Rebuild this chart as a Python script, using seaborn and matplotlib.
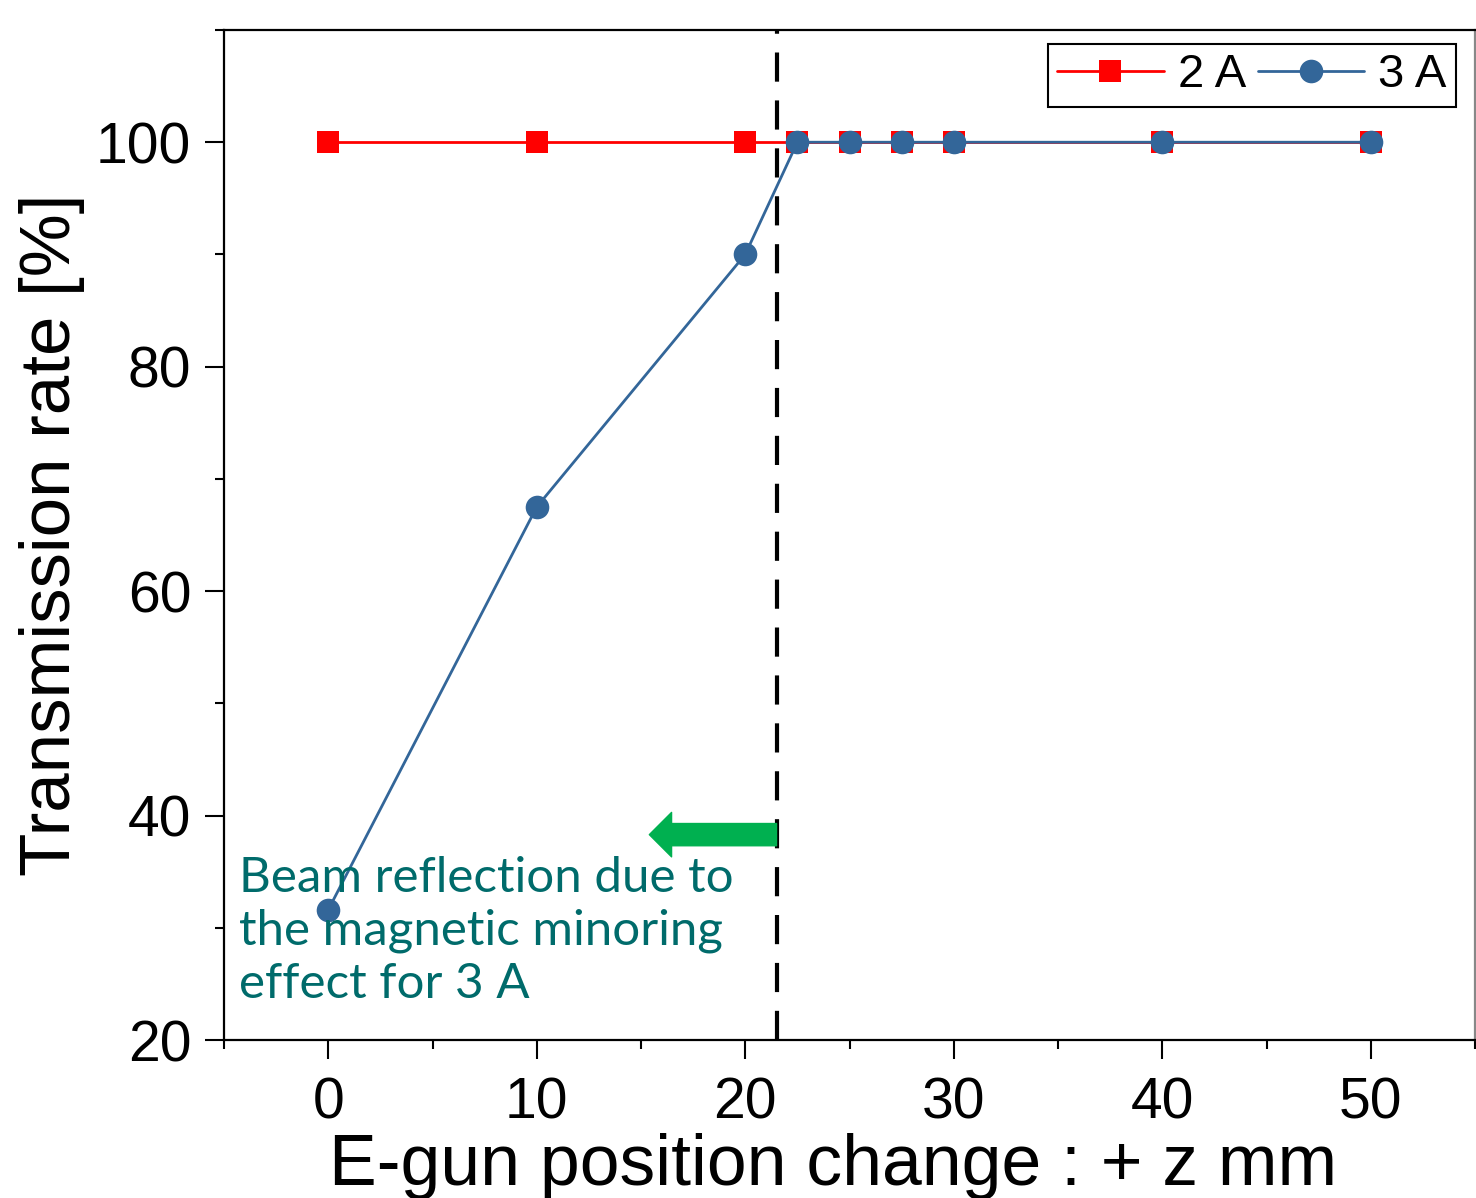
import numpy as np
import pandas as pd
import seaborn as sns
import matplotlib.pyplot as plt
from matplotlib.ticker import MultipleLocator

# data
position_mm = [0, 10, 20, 22.5, 25, 27.5, 30, 40, 50]
rate_2A = [100, 100, 100, 100, 100, 100, 100, 100, 100]
rate_3A = [31.6, 67.5, 90, 100, 100, 100, 100, 100, 100]
series_labels = ['2 A', '3 A']
boundary_mm = 21.5
arrow_tip_mm = 15.4
arrow_level = 38.3
note_text = 'Beam reflection due to\nthe magnetic minoring\neffect for 3 A'

sns.set_theme(style='ticks')
plt.rcParams['font.family'] = ['Liberation Sans', 'DejaVu Sans']
plt.rcParams.update({'text.color': 'black', 'axes.labelcolor': 'black',
                     'xtick.color': 'black', 'ytick.color': 'black'})

fig = plt.figure(figsize=(14.76, 11.98), dpi=100)
ax = fig.add_axes([224 / 1476, 1 - 1040 / 1198, (1475 - 224) / 1476, (1040 - 30) / 1198])

df_2A = pd.DataFrame({'x': position_mm, 'y': rate_2A})
df_3A = pd.DataFrame({'x': position_mm, 'y': rate_3A})

sns.lineplot(data=df_2A, x='x', y='y', ax=ax, color='#FF0000', lw=2,
             marker='s', markersize=16, markeredgewidth=0, label=series_labels[0], zorder=3)
ax.axvline(boundary_mm, color='black', lw=3, ls=(0, (7, 4.5)), zorder=4)
sns.lineplot(data=df_3A, x='x', y='y', ax=ax, color='#336699', lw=2,
             marker='o', markersize=17, markeredgewidth=0, label=series_labels[1], zorder=5)

ax.annotate('', xy=(arrow_tip_mm, arrow_level), xytext=(boundary_mm, arrow_level),
            arrowprops=dict(arrowstyle='simple,head_length=0.5,head_width=1.0,tail_width=0.5',
                            color='#00B050', mutation_scale=32, shrinkA=0, shrinkB=0),
            zorder=6)
ax.text(-4.3, 36.4, note_text, color='#006B6B', fontsize=35.5, family=['Lato', 'DejaVu Sans'],
        va='top', ha='left', linespacing=1.24, zorder=7)

ax.set_xlim(-5, 55)
ax.set_ylim(20, 110)
ax.xaxis.set_major_locator(MultipleLocator(10))
ax.xaxis.set_minor_locator(MultipleLocator(5))
ax.yaxis.set_major_locator(MultipleLocator(20))
ax.yaxis.set_minor_locator(MultipleLocator(10))
ax.tick_params(which='both', direction='out', width=1.5, color='black',
               top=False, right=False)
ax.tick_params(which='major', length=13.5, labelsize=41, pad=10)
ax.tick_params(axis='x', which='major', pad=13)
ax.tick_params(which='minor', length=6.5)
for s in ax.spines.values():
    s.set_visible(True)
    s.set_linewidth(1.6)
    s.set_color('black')
ax.spines['right'].set_color('#888888')

ax.set_xlabel('E-gun position change : + z mm', fontsize=51.5, labelpad=0)
ax.xaxis.set_label_coords((833 - 224) / 1251, -0.092)
ax.set_ylabel('Transmission rate [%]', fontsize=51, labelpad=8)

handles, labels = ax.get_legend_handles_labels()
leg = ax.legend(handles, labels, ncol=2, fontsize=34, loc='upper right',
                bbox_to_anchor=(1456 / 1476, 1 - 44 / 1198), bbox_transform=fig.transFigure,
                frameon=True, fancybox=False, edgecolor='black', framealpha=1,
                handlelength=2.25, handletextpad=0.3, columnspacing=0.25,
                borderpad=0.2, borderaxespad=0)
leg.get_frame().set_linewidth(1.5)

fig.savefig('out.png', dpi=100)
